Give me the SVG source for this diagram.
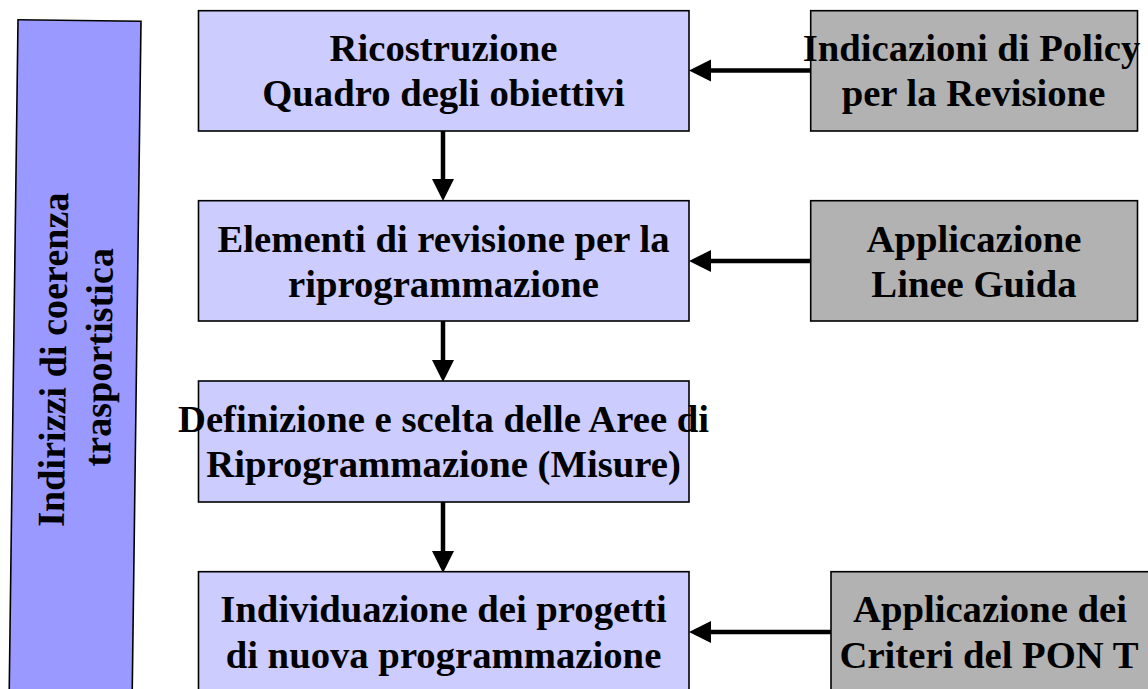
<svg xmlns="http://www.w3.org/2000/svg" width="1148" height="689" viewBox="0 0 1148 689">
<defs>
<style>
.main{fill:#CCCCFF;stroke:#000;stroke-width:1.6}
.side{fill:#B2B2B2;stroke:#000;stroke-width:1.6}
.bar{fill:#9999FF;stroke:#000;stroke-width:1.6}
.t{font-family:"Liberation Serif","Times New Roman",serif;font-weight:bold;font-size:38.7px;fill:#000;text-anchor:middle}
.bt{font-size:38.2px}
.c{stroke:#000;stroke-width:4.5;fill:none;marker-end:url(#ah)}
</style>
<marker id="ah" markerUnits="userSpaceOnUse" markerWidth="22" markerHeight="22" refX="0" refY="11" orient="auto" overflow="visible">
<path d="M0,0 L22,11 L0,22 z" fill="#000"/>
</marker>
</defs>
<rect width="1148" height="689" fill="#fff"/>
<g id="bar">
<g transform="rotate(0.75 79.5 20.5)">
<rect class="bar" x="18" y="20.5" width="123" height="720"/>
<text class="t bt" transform="translate(70.5 360) rotate(-90)"><tspan x="0" y="0">Indirizzi di coerenza</tspan></text>
<text class="t bt" transform="translate(116 357) rotate(-90)"><tspan x="0" y="0">trasportistica</tspan></text>
</g>
</g>
<g id="connectors">
<line class="c" x1="443" y1="131" x2="443" y2="179"/>
<line class="c" x1="443" y1="321" x2="443" y2="360"/>
<line class="c" x1="443" y1="502" x2="443" y2="551"/>
<line class="c" x1="811" y1="70.5" x2="711" y2="70.5"/>
<line class="c" x1="811" y1="261" x2="711" y2="261"/>
<line class="c" x1="831" y1="632" x2="711" y2="632"/>
</g>
<g id="n1">
<rect class="main" x="198.5" y="10.7" width="490.5" height="120.3"/>
<text class="t" x="443.5" y="61">Ricostruzione</text>
<text class="t" x="443.5" y="106">Quadro degli obiettivi</text>
</g>
<g id="n2">
<rect class="main" x="198.5" y="200.7" width="490.5" height="120.3"/>
<text class="t" x="443.5" y="251.5">Elementi di revisione per la</text>
<text class="t" x="443.5" y="297">riprogrammazione</text>
</g>
<g id="n3">
<rect class="main" x="198.5" y="381" width="490.5" height="121"/>
<text class="t" x="443.5" y="431.7">Definizione e scelta delle Aree di</text>
<text class="t" x="443.5" y="477">Riprogrammazione (Misure)</text>
</g>
<g id="n4">
<rect class="main" x="198.5" y="571.7" width="490.5" height="121"/>
<text class="t" x="443.5" y="621.7">Individuazione dei progetti</text>
<text class="t" x="443.5" y="668">di nuova programmazione</text>
</g>
<g id="s1">
<rect class="side" x="810.7" y="10.7" width="326.8" height="120.3"/>
<text class="t" x="971.5" y="61">Indicazioni di Policy</text>
<text class="t" x="973.5" y="106">per la Revisione</text>
</g>
<g id="s2">
<rect class="side" x="810.7" y="200.7" width="326.8" height="120.3"/>
<text class="t" x="974" y="251.5">Applicazione</text>
<text class="t" x="974" y="297">Linee Guida</text>
</g>
<g id="s3">
<rect class="side" x="831" y="571.7" width="326.8" height="121"/>
<text class="t" x="990" y="621.7">Applicazione dei</text>
<text class="t" x="989" y="668">Criteri del PON T</text>
</g>
</svg>
